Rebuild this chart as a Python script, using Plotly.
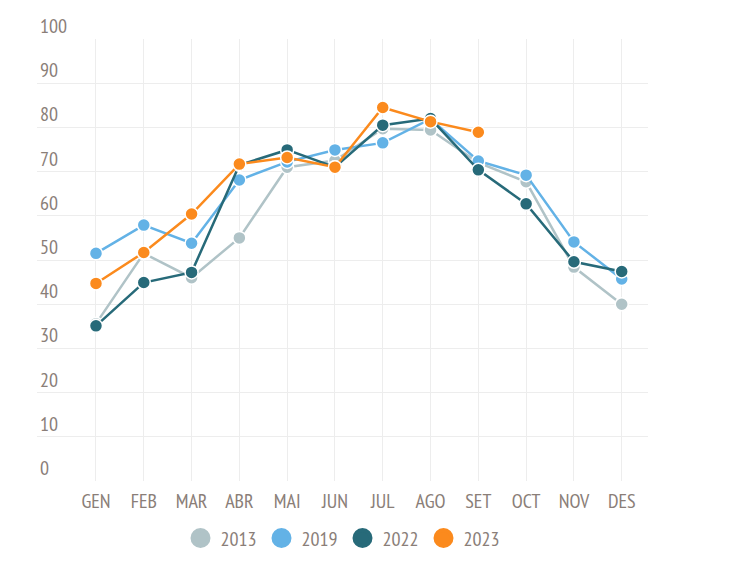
import plotly.graph_objects as go

months = ["GEN", "FEB", "MAR", "ABR", "MAI", "JUN", "JUL", "AGO", "SET", "OCT", "NOV", "DES"]
years = ["2013", "2019", "2022", "2023"]
v2013 = [35.6, 51.5, 46.0, 55.0, 71.0, 72.5, 79.7, 79.4, 72.0, 67.7, 48.4, 40.0]
v2019 = [51.5, 57.9, 53.8, 68.1, 72.2, 74.9, 76.5, 81.9, 72.4, 69.2, 54.1, 45.7]
v2022 = [35.1, 44.9, 47.2, 71.5, 74.9, 71.0, 80.5, 82.0, 70.4, 62.7, 49.6, 47.4]
v2023 = [44.7, 51.7, 60.4, 71.7, 73.2, 71.0, 84.5, 81.3, 78.9, None, None, None]
colors = ["#b0c3c7", "#63b2e6", "#276a79", "#fb8a1d"]
series = [v2013, v2019, v2022, v2023]

FONT = "Liberation Sans Narrow, PT Sans Narrow, DejaVu Sans Condensed, sans-serif"
TXT = "#8a7e78"

fig = go.Figure()
for name, vals, col in zip(years, series, colors):
    fig.add_trace(go.Scatter(
        x=months, y=vals, name=name, mode="lines+markers",
        line=dict(color=col, width=2.5),
        marker=dict(color=col, size=13, line=dict(color="white", width=1.5)),
        showlegend=False, cliponaxis=False,
    ))
for name, col in zip(years, colors):
    fig.add_trace(go.Scatter(
        x=[None], y=[None], name=name, mode="markers",
        marker=dict(color=col, size=16, line=dict(color=col, width=4)), showlegend=True,
    ))

fig.update_layout(
    width=722, height=560,
    margin=dict(l=29, r=82, t=31, b=87, autoexpand=False),
    paper_bgcolor="white", plot_bgcolor="white",
    font=dict(family=FONT, size=20, color=TXT),
    showlegend=True,
    legend=dict(orientation="h", x=0.5, xanchor="center", y=-0.129, yanchor="middle",
                font=dict(family=FONT, size=20, color=TXT), itemsizing="trace",
                entrywidth=36, entrywidthmode="pixels"),
    xaxis=dict(type="category", range=[-1.234, 11.55], showgrid=True, gridcolor="#ededed",
               gridwidth=1, zeroline=False, showline=False, ticks="", automargin=False,
               ticklabelstandoff=6,
               tickfont=dict(family=FONT, size=20, color=TXT)),
    yaxis=dict(range=[0, 100], tickvals=[0, 10, 20, 30, 40, 50, 60, 70, 80, 90, 100],
               showgrid=True, gridcolor="#ededed", gridwidth=1, zeroline=False,
               showline=False, ticks="", ticklabelposition="inside", automargin=False,
               ticklabeloverflow="allow", ticklabelshift=-13,
               tickfont=dict(family=FONT, size=20, color=TXT)),
)

fig.write_html("out.html")
